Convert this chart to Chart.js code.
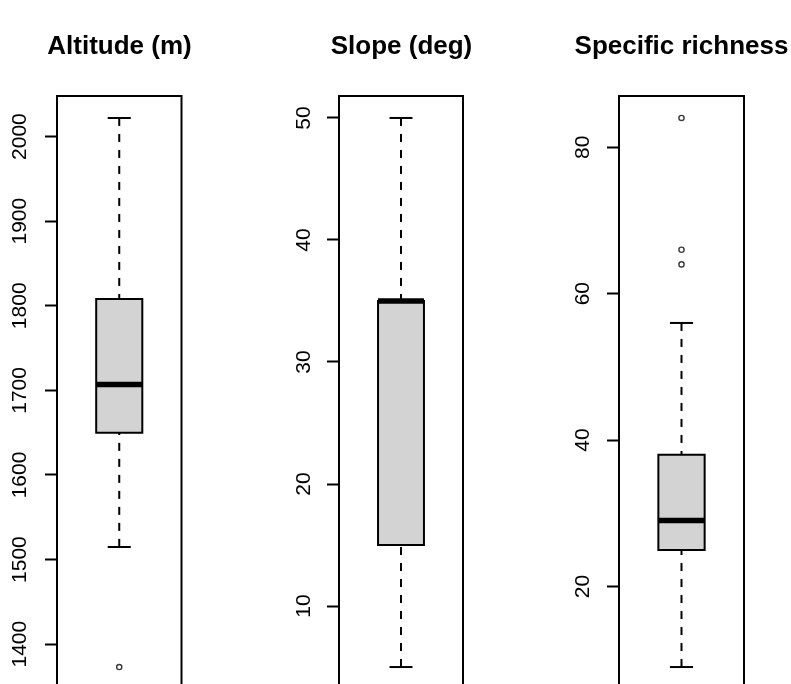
<!DOCTYPE html>
<html>
<head>
<meta charset="utf-8">
<script src="https://cdn.jsdelivr.net/npm/chart.js@4.4.0/dist/chart.umd.min.js"></script>
<style>
html, body { margin: 0; padding: 0; background: #fff; }
#wrap { position: relative; width: 791px; height: 684px; overflow: hidden; background: #fff; }
.panel { position: absolute; top: 0; }
</style>
</head>
<body>
<div id="wrap">
  <div class="panel" style="left:0px"><canvas id="c0" width="239" height="720"></canvas></div>
  <div class="panel" style="left:282px"><canvas id="c1" width="239" height="720"></canvas></div>
  <div class="panel" style="left:562px"><canvas id="c2" width="239" height="720"></canvas></div>
</div>
<script>
// ---- data ----
const panelTitles = ['Altitude (m)', 'Slope (deg)', 'Specific richness'];
// five-number summaries: [lower whisker, Q1, median, Q3, upper whisker]
const altitudeStats = [1515, 1650, 1707, 1808, 2022];
const altitudeOutliers = [1373];
const altitudeTicks = [1400, 1500, 1600, 1700, 1800, 1900, 2000];

const slopeStats = [5, 15, 35, 35, 50];
const slopeOutliers = [];
const slopeTicks = [10, 20, 30, 40, 50];

const richnessStats = [9, 25, 29, 38, 56];
const richnessOutliers = [64, 66, 84];
const richnessTicks = [20, 40, 60, 80];

// ---- drawing ----
const BOX_HALF = 0.2, CAP_HALF = 0.1, X_LIM = 0.54;

const framePlugin = {
  id: 'frame',
  afterDatasetsDraw(chart) {
    const { ctx, chartArea: a } = chart;
    ctx.save();
    ctx.strokeStyle = '#000';
    ctx.lineWidth = 2;
    ctx.strokeRect(a.left, a.top, a.right - a.left, a.bottom - a.top);
    ctx.restore();
  }
};

function boxplot(canvasId, title, stats, outliers, ticks, tickPad, rightSpace) {
  const [lo, q1, med, q3, hi] = stats;
  const all = stats.concat(outliers);
  const dmin = Math.min(...all), dmax = Math.max(...all);
  const ext = 0.04 * (dmax - dmin);
  const line = { borderColor: '#000', borderWidth: 2, pointRadius: 0, fill: false };
  const datasets = [
    Object.assign({}, line, { data: [{x: -BOX_HALF, y: med}, {x: BOX_HALF, y: med}], borderWidth: 5.5, borderCapStyle: 'butt' }),
    Object.assign({}, line, { data: [{x: -BOX_HALF, y: q1}, {x: -BOX_HALF, y: q3}, {x: BOX_HALF, y: q3}, {x: BOX_HALF, y: q1}, {x: -BOX_HALF, y: q1}], borderCapStyle: 'square', borderJoinStyle: 'miter' }),
    { data: [{x: -BOX_HALF, y: q3}, {x: BOX_HALF, y: q3}], borderWidth: 0, borderColor: 'rgba(0,0,0,0)', backgroundColor: '#d3d3d3', pointRadius: 0, fill: { value: q1 } },
    Object.assign({}, line, { data: [{x: 0, y: hi}, {x: 0, y: q3}], borderDash: [8, 8] }),
    Object.assign({}, line, { data: [{x: 0, y: lo}, {x: 0, y: q1}], borderDash: [8, 8] }),
    Object.assign({}, line, { data: [{x: -CAP_HALF, y: hi}, {x: CAP_HALF, y: hi}] }),
    Object.assign({}, line, { data: [{x: -CAP_HALF, y: lo}, {x: CAP_HALF, y: lo}] }),
    { data: outliers.map(v => ({x: 0, y: v})), showLine: false, pointRadius: 2.6, pointBorderWidth: 1.4,
      pointBorderColor: '#3a3a3a', pointBackgroundColor: 'rgba(0,0,0,0)', pointStyle: 'circle' }
  ];
  return new Chart(document.getElementById(canvasId), {
    type: 'line',
    data: { datasets },
    plugins: [framePlugin],
    options: {
      responsive: false,
      animation: false,
      devicePixelRatio: 1,
      events: [],
      layout: { padding: { top: 0, left: 0, right: 0, bottom: 31 } },
      elements: { line: { tension: 0 } },
      plugins: {
        legend: { display: false },
        tooltip: { enabled: false },
        title: {
          display: true, text: title, color: '#000',
          font: { family: 'Liberation Sans', size: 26, weight: 'bold', lineHeight: 1.2 },
          padding: { top: 31.4, bottom: 33.4 }
        }
      },
      scales: {
        x: { type: 'linear', min: -X_LIM, max: X_LIM, display: false },
        y: {
          type: 'linear', position: 'left',
          min: dmin - ext, max: dmax + ext,
          afterFit(s) { s.width = 57; },
          afterBuildTicks(s) { s.ticks = ticks.map(v => ({ value: v })); },
          grid: { drawOnChartArea: false, drawTicks: true, tickLength: 12, tickColor: '#000', tickWidth: 2 },
          border: { display: true, color: '#000', width: 2 },
          ticks: {
            minRotation: 90, maxRotation: 90, crossAlign: 'center', padding: tickPad,
            color: '#000', font: { family: 'Liberation Sans', size: 21 },
            callback: v => String(v)
          }
        },
        ySpace: {
          type: 'linear', position: 'right', display: true,
          afterFit(s) { s.width = rightSpace; },
          grid: { display: false, drawTicks: false },
          border: { display: false },
          ticks: { display: false }
        }
      }
    }
  });
}

boxplot('c0', panelTitles[0], altitudeStats, altitudeOutliers, altitudeTicks, 1.7, 57.5);
boxplot('c1', panelTitles[1], slopeStats, slopeOutliers, slopeTicks, 11.6, 58);
boxplot('c2', panelTitles[2], richnessStats, richnessOutliers, richnessTicks, 12, 57);
</script>
</body>
</html>
